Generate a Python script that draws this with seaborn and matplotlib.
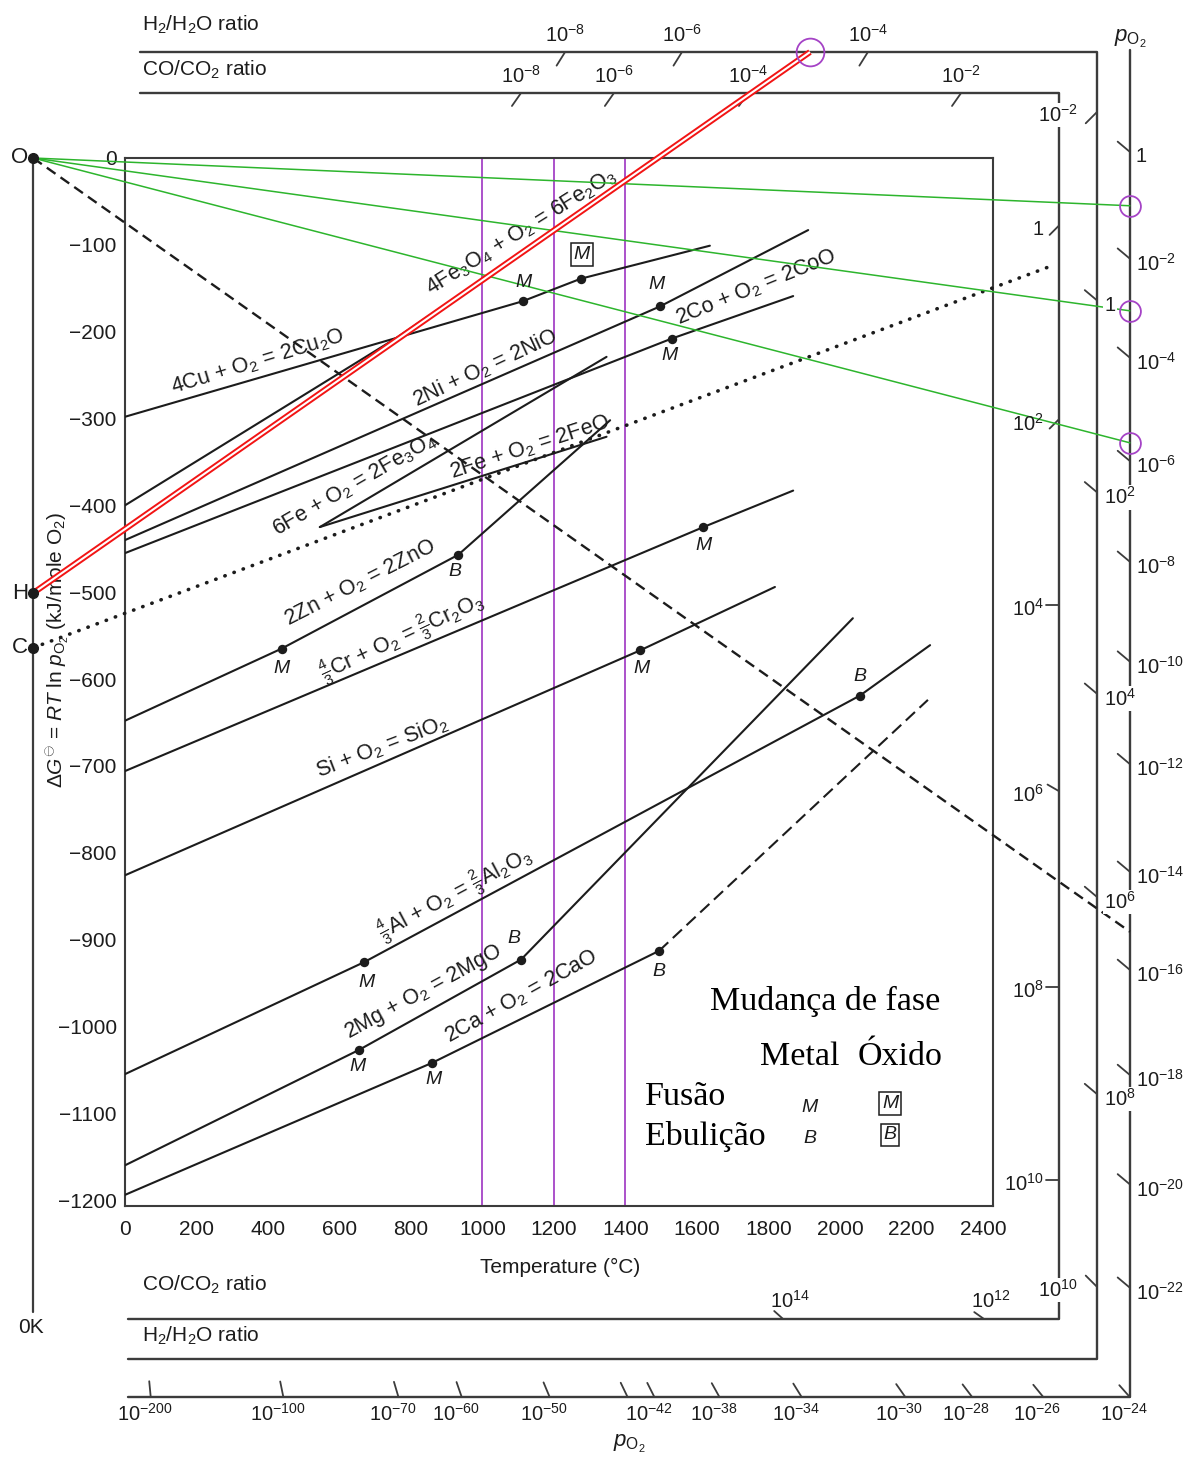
import numpy as np
import pandas as pd
import matplotlib
matplotlib.use("Agg")
import matplotlib.pyplot as plt
import seaborn as sns

sns.set_theme(style="white")
plt.rcParams["font.family"] = ["Liberation Sans", "DejaVu Sans"]
plt.rcParams["mathtext.fontset"] = "custom"
plt.rcParams["mathtext.rm"] = "Liberation Sans"
plt.rcParams["mathtext.it"] = "Liberation Sans:italic"
plt.rcParams["mathtext.bf"] = "Liberation Sans:bold"
plt.rcParams["mathtext.sf"] = "Liberation Sans"
plt.rcParams["axes.unicode_minus"] = True

INK = "#1c1c1c"
FRAME = "#3c3c3c"
PURPLE = "#a543c6"
GREEN = "#2db52d"
RED = "#f21414"

# ---- axis ticks -------------------------------------------------------
temp_ticks = list(range(0, 2401, 200))
dg_ticks = list(range(0, -1201, -100))

# ---- Ellingham lines: temperature (degC) and dG (kJ / mole O2) --------
cu_T = [0, 1112, 1275, 1636]
cu_G = [-298, -165, -139, -101]
fe2o3_T = [0, 760, 1441]
fe2o3_G = [-400, -207, -16]
ni_T = [0, 1496, 1911]
ni_G = [-440, -171, -83]
co_T = [0, 1529, 1869]
co_G = [-455, -208, -159]
fe3o4_T = [545, 1347]
fe3o4_G = [-425, -229]
feo_T = [545, 1347]
feo_G = [-425, -321]
zn_T = [0, 438, 932, 1357]
zn_G = [-648, -565, -457, -302]
cr_T = [0, 1618, 1869]
cr_G = [-706, -425, -383]
si_T = [0, 1441, 1818]
si_G = [-826, -567, -494]
al_T = [0, 669, 2056, 2252]
al_G = [-1055, -926, -619, -561]
mg_T = [0, 655, 1108, 2036]
mg_G = [-1160, -1027, -923, -530]
ca_T = [0, 859, 1494]
ca_G = [-1194, -1042, -913]
ca_gas_T = [1494, 2246]
ca_gas_G = [-913, -624]

reactions = {
    "cu": (cu_T, cu_G), "fe2o3": (fe2o3_T, fe2o3_G), "ni": (ni_T, ni_G),
    "co": (co_T, co_G), "fe3o4": (fe3o4_T, fe3o4_G), "feo": (feo_T, feo_G),
    "zn": (zn_T, zn_G), "cr": (cr_T, cr_G), "si": (si_T, si_G),
    "al": (al_T, al_G), "mg": (mg_T, mg_G), "ca": (ca_T, ca_G),
}

# reaction labels: text, centre (degC, kJ), rotation
labels = {
    "cu": (r"4Cu + O$_2$ = 2Cu$_2$O", 371, -235, 17),
    "fe2o3": (r"4Fe$_3$O$_4$ + O$_2$ = 6Fe$_2$O$_3$", 1109, -85, 32),
    "ni": (r"2Ni + O$_2$ = 2NiO", 1007, -242, 25),
    "co": (r"2Co + O$_2$ = 2CoO", 1765, -149, 22),
    "fe3o4": (r"6Fe + O$_2$ = 2Fe$_3$O$_4$", 643, -377, 30),
    "feo": (r"2Fe + O$_2$ = 2FeO", 1133, -333, 18),
    "zn": (r"2Zn + O$_2$ = 2ZnO", 657, -490, 27),
    "cr": (r"$\frac{4}{3}$Cr + O$_2$ = $\frac{2}{3}$Cr$_2$O$_3$", 775, -552, 25),
    "si": (r"Si + O$_2$ = SiO$_2$", 719, -678, 21),
    "al": (r"$\frac{4}{3}$Al + O$_2$ = $\frac{2}{3}$Al$_2$O$_3$", 923, -847, 28),
    "mg": (r"2Mg + O$_2$ = 2MgO", 836, -961, 28.6),
    "ca": (r"2Ca + O$_2$ = 2CaO", 1108, -966, 29),
}

# phase changes: (reaction, vertex index, symbol, oxide?, label offset px)
phase_changes = [
    ("cu", 1, "M", False, (1, -19)), ("cu", 2, "M", True, (1, -24)),
    ("ni", 1, "M", False, (-3, -22)), ("co", 1, "M", False, (-2, 17)),
    ("cr", 1, "M", False, (0, 18)), ("zn", 1, "M", False, (0, 20)),
    ("zn", 2, "B", False, (-3, 17)), ("si", 1, "M", False, (1, 18)),
    ("al", 1, "M", False, (2, 20)), ("al", 2, "B", False, (0, -19)),
    ("mg", 1, "M", False, (-2, 17)), ("mg", 2, "B", False, (-7, -21)),
    ("ca", 1, "M", False, (1, 17)), ("ca", 2, "B", False, (0, 21)),
]

# ---- nomograph construction points (at 0 K) ----------------------------
O_pt = (-257, 0)
H_pt = (-257, -501)
C_pt = (-257, -564)

h2_line_end = (1916, 122)
po2_targets_G = [-55, -176, -328]
dashed_end = (2811, -891)
co_line_end = (2593, -124)
marked_T = [1000, 1200, 1400]

# ---- auxiliary scales --------------------------------------------------
po2_T = 2811
po2_bottom_G = -1427
po2_right_G = [7, -116, -230, -349, -465, -580, -698, -822, -935, -1056, -1182, -1301]
po2_right_exp = [0, -2, -4, -6, -8, -10, -12, -14, -16, -18, -20, -22]
po2_bottom_T = [72, 443, 765, 942, 1188, 1406, 1481, 1663, 1893, 2183, 2370, 2569, 2811]
po2_bottom_exp = [-200, -100, -70, -60, -50, None, -42, -38, -34, -30, -28, -26, -24]

h2_T = 2719
h2_top_G = 122
h2_bottom_G = -1383
h2_top_T = [1231, 1558, 2078]
h2_top_exp = [-8, -6, -4]
h2_right_G = [53, -164, -385, -617, -851, -1078, -1300]
h2_right_exp = [-2, 0, 2, 4, 6, 8, 10]
h2_right_side = ["L", "R", "R", "R", "R", "R", "L"]
h2_right_ang = [225, 140, 140, 140, 140, 140, 135]

co_T = 2612
co_top_G = 75
co_bottom_G = -1337
co_top_T = [1108, 1368, 1743, 2339]
co_top_exp = [-8, -6, -4, -2]
co_right_G = [-78, -301, -515, -729, -955, -1177]
co_right_exp = [0, 2, 4, 6, 8, 10]
co_right_ang = [225, 225, 180, 150, 180, 180]
co_bottom_T = [1841, 2403]
co_bottom_exp = [14, 12]

# ---- figure ------------------------------------------------------------
W, H = 1195, 1458
fig = plt.figure(figsize=(W / 100, H / 100), dpi=100)
ax = fig.add_axes([125 / W, 1 - 1205.7 / H, 868 / W, 1047.7 / H])
ax.set_xlim(0, 2428)
ax.set_ylim(-1206.5, 0)

df = pd.concat(
    [pd.DataFrame({"T": t, "G": g, "reaction": k}) for k, (t, g) in reactions.items()],
    ignore_index=True,
)
sns.lineplot(data=df, x="T", y="G", units="reaction", estimator=None, sort=False,
             color=INK, lw=1.5, ax=ax, legend=False, zorder=3)
ax.plot(ca_gas_T, ca_gas_G, color=INK, lw=1.5, ls=(0, (6, 3)), zorder=3)

pts = pd.DataFrame(
    [(reactions[r][0][i], reactions[r][1][i]) for r, i, *_ in phase_changes],
    columns=["T", "G"],
)
sns.scatterplot(data=pts, x="T", y="G", color=INK, s=46, edgecolor=INK,
                linewidth=0, ax=ax, zorder=5, legend=False)

for (r, i, sym, oxide, (dx, dy)) in phase_changes:
    t, g = reactions[r][0][i], reactions[r][1][i]
    box = dict(boxstyle="square,pad=0.15", fc="white", ec=INK, lw=1.1) if oxide else None
    ax.annotate(sym, (t, g), xytext=(dx * 0.72, -dy * 0.72), textcoords="offset points",
                ha="center", va="center", fontsize=14, style="italic", color=INK,
                bbox=box, zorder=6)

for k, (txt, t, g, rot) in labels.items():
    ax.text(t, g, txt, rotation=rot, rotation_mode="anchor", ha="center", va="center",
            fontsize=15.5, color=INK, zorder=4)

# marked temperatures
for t in marked_T:
    ax.plot([t, t], [0, -1206.5], color=PURPLE, lw=1.3, zorder=2)

# construction lines from the 0 K points
for g in po2_targets_G:
    ax.plot([O_pt[0], po2_T], [O_pt[1], g], color=GREEN, lw=1.1, clip_on=False, zorder=4)
ax.plot([O_pt[0], dashed_end[0]], [O_pt[1], dashed_end[1]], color=INK, lw=1.7,
        ls=(0, (4.5, 2.6)), clip_on=False, zorder=3)
ax.plot([C_pt[0], co_line_end[0]], [C_pt[1], co_line_end[1]], color=INK, lw=2.6,
        ls=(0, (0.1, 2.6)), dash_capstyle="round", clip_on=False, zorder=3)
ax.plot([H_pt[0], h2_line_end[0]], [H_pt[1], h2_line_end[1]], color=RED, lw=4.3,
        clip_on=False, zorder=4, solid_capstyle="butt")
ax.plot([H_pt[0], h2_line_end[0]], [H_pt[1], h2_line_end[1]], color="white", lw=1.5,
        clip_on=False, zorder=4, solid_capstyle="butt")

ax.plot([h2_line_end[0]], [h2_line_end[1]], marker="o", ms=20, mfc="none", mec=PURPLE,
        mew=1.3, clip_on=False, zorder=6)
ax.plot([po2_T] * 3, po2_targets_G, ls="none", marker="o", ms=15, mfc="none", mec=PURPLE,
        mew=1.3, clip_on=False, zorder=6)

# left 0 K line with construction points
ax.plot([O_pt[0], O_pt[0]], [0, -1329], color=FRAME, lw=1.6, clip_on=False)
for p, name in [(O_pt, "O"), (H_pt, "H"), (C_pt, "C")]:
    ax.plot([p[0]], [p[1]], marker="o", ms=7, color=INK, clip_on=False, zorder=7)
    ax.text(-271, p[1], name, ha="right", va="center", fontsize=16, color=INK)
ax.text(-263, -1347, "0K", ha="center", va="center", fontsize=15, color=INK)

# scale frames
ax.plot([42, h2_T, h2_T, 8.4], [h2_top_G, h2_top_G, h2_bottom_G, h2_bottom_G],
        color=FRAME, lw=1.7, clip_on=False)
ax.plot([42, co_T, co_T, 8.4], [co_top_G, co_top_G, co_bottom_G, co_bottom_G],
        color=FRAME, lw=1.7, clip_on=False)
ax.plot([po2_T, po2_T, 8.4], [124, po2_bottom_G, po2_bottom_G],
        color=FRAME, lw=1.7, clip_on=False)

fig.canvas.draw()
to_px = ax.transData.transform
to_data = ax.transData.inverted().transform


def tick(T, G, origin=None, angle=None, length=16):
    p = to_px((T, G))
    if angle is None:
        o = to_px(origin)
        d = (o - p) / np.hypot(*(o - p))
    else:
        a = np.deg2rad(angle)
        d = np.array([np.cos(a), np.sin(a)])
    q = to_data(p + d * length)
    ax.plot([T, q[0]], [G, q[1]], color=FRAME, lw=1.3, clip_on=False, zorder=3)


def exp_text(e):
    return "1" if e == 0 else rf"$10^{{{e}}}$"


def lab(T, G, text, dx, dy, ha, box=False, size=14.5):
    bb = dict(fc="white", ec="none", pad=1.0) if box else None
    ax.annotate(text, (T, G), xytext=(dx * 0.72, -dy * 0.72), textcoords="offset points",
                ha=ha, va="center", fontsize=size, color=INK, bbox=bb,
                annotation_clip=False, zorder=8)


# p_O2 scale
for g, e in zip(po2_right_G, po2_right_exp):
    tick(po2_T, g, angle=140)
    lab(po2_T, g, exp_text(e), 6, 5, "left")
for t, e in zip(po2_bottom_T, po2_bottom_exp):
    tick(t, po2_bottom_G, origin=O_pt)
    if e is not None:
        lab(t, po2_bottom_G, exp_text(e), -6, 17, "center")
ax.text(po2_T, 137, r"$p_{\mathrm{O}_2}$", ha="center", va="center", fontsize=16, color=INK)
ax.text(1410, -1481, r"$p_{\mathrm{O}_2}$", ha="center", va="center", fontsize=16, color=INK)

# H2/H2O scale
for t, e in zip(h2_top_T, h2_top_exp):
    tick(t, h2_top_G, angle=238)
    lab(t, h2_top_G, exp_text(e), 0, -17, "center")
for g, e, s, a in zip(h2_right_G, h2_right_exp, h2_right_side, h2_right_ang):
    tick(h2_T, g, angle=a)
    if s == "R":
        lab(h2_T, g, exp_text(e), 7, 5, "left", box=True)
    else:
        lab(h2_T, g, exp_text(e), -19, 3, "right", box=True)

# CO/CO2 scale
for t, e in zip(co_top_T, co_top_exp):
    tick(t, co_top_G, angle=235)
    lab(t, co_top_G, exp_text(e), 0, -17, "center")
for g, e, a in zip(co_right_G, co_right_exp, co_right_ang):
    tick(co_T, g, angle=a, length=13)
    lab(co_T, g, exp_text(e), -15, 4, "right")
for t, e in zip(co_bottom_T, co_bottom_exp):
    tick(t, co_bottom_G, origin=C_pt, length=12)
    lab(t, co_bottom_G, exp_text(e), 7, -18, "center")

ratio_kw = dict(ha="left", va="center", fontsize=15, color=INK)
ax.text(48, 153, r"H$_2$/H$_2$O ratio", **ratio_kw)
ax.text(48, 101, r"CO/CO$_2$ ratio", **ratio_kw)
ax.text(48, -1298, r"CO/CO$_2$ ratio", **ratio_kw)
ax.text(48, -1356, r"H$_2$/H$_2$O ratio", **ratio_kw)

# axes
ax.set_xticks(temp_ticks)
ax.set_yticks(dg_ticks)
ax.set_xlabel("")
ax.set_ylabel("")
ax.tick_params(axis="both", direction="in", length=8, width=1.2, color=FRAME,
               labelsize=15, labelcolor=INK)
ax.tick_params(axis="x", pad=10)
ax.tick_params(axis="y", pad=6)
for s in ax.spines.values():
    s.set_color(FRAME)
    s.set_linewidth(1.5)
ax.text(1217, -1278, "Temperature (°C)", ha="center", va="center", fontsize=15, color=INK)
ax.text(-187, -567, r"$\Delta G^{\ominus}$ = $RT$ ln $p_{\mathrm{O}_2}$ (kJ/mole O$_2$)",
        rotation=90, ha="center", va="center", fontsize=15, color=INK)

# phase-change key
serif = ["Liberation Serif", "DejaVu Serif"]
ax.text(1636, -971, "Mudança de fase", family=serif, fontsize=24.5, ha="left", va="center", color="black")
ax.text(1776, -1035, "Metal", family=serif, fontsize=24.5, ha="left", va="center", color="black")
ax.text(2048, -1035, "Óxido", family=serif, fontsize=24.5, ha="left", va="center", color="black")
ax.text(1454, -1081, "Fusão", family=serif, fontsize=24.5, ha="left", va="center", color="black")
ax.text(1454, -1127, "Ebulição", family=serif, fontsize=24.5, ha="left", va="center", color="black")
ax.text(1916, -1093, "M", style="italic", fontsize=14, ha="center", va="center", color=INK)
ax.text(1916, -1129, "B", style="italic", fontsize=14, ha="center", va="center", color=INK)
boxkw = dict(boxstyle="square,pad=0.15", fc="white", ec=INK, lw=1.1)
ax.text(2140, -1089, "M", style="italic", fontsize=14, ha="center", va="center", color=INK, bbox=boxkw)
ax.text(2140, -1125, "B", style="italic", fontsize=14, ha="center", va="center", color=INK, bbox=boxkw)

fig.savefig("out.png", dpi=100)
